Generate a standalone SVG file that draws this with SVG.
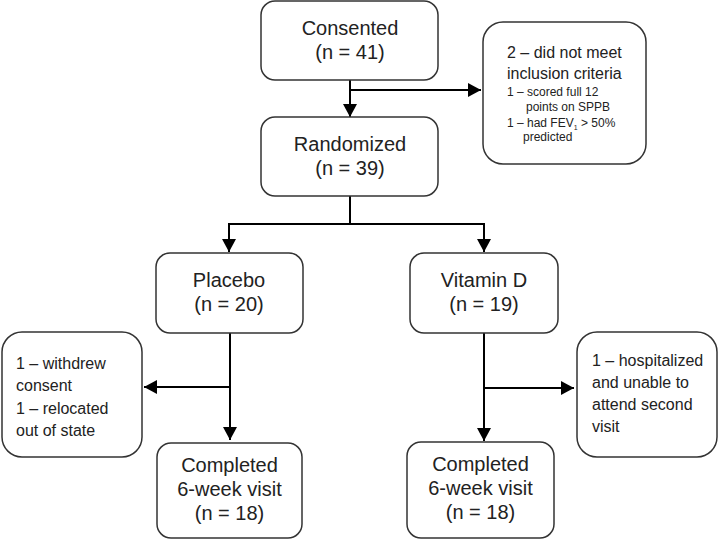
<svg xmlns="http://www.w3.org/2000/svg" width="718" height="539" viewBox="0 0 718 539">
<defs>
<marker id="ah" markerUnits="userSpaceOnUse" markerWidth="13" markerHeight="14" refX="13" refY="7" orient="auto" viewBox="0 0 13 14">
<path d="M0,0 L13,7 L0,14 z" fill="#000"/>
</marker>
<style>
.box{fill:#fff;stroke:#333;stroke-width:1.5}
.t{font-family:"Liberation Sans",Arial,sans-serif;fill:#222}
.big{font-size:20px;text-anchor:middle}
.mid{font-size:16px}
.sm{font-size:12px}
.c{fill:none;stroke:#000;stroke-width:2}
</style>
</defs>
<rect width="718" height="539" fill="#fff"/>
<g id="connectors">
<path class="c" d="M350,80 V117" marker-end="url(#ah)"/>
<path class="c" d="M350,90 H481" marker-end="url(#ah)"/>
<path class="c" d="M350,196 V224 H229 V252" marker-end="url(#ah)"/>
<path class="c" d="M350,224 H484 V252" marker-end="url(#ah)"/>
<path class="c" d="M230,333 V440" marker-end="url(#ah)"/>
<path class="c" d="M230,387 H144" marker-end="url(#ah)"/>
<path class="c" d="M484,333 V441" marker-end="url(#ah)"/>
<path class="c" d="M484,388 H574" marker-end="url(#ah)"/>
</g>
<g id="consented">
<rect class="box" x="261" y="1" width="177" height="79" rx="14"/>
<text class="t big" x="350" y="35">Consented</text>
<text class="t big" x="350" y="59">(n = 41)</text>
</g>
<g id="excluded">
<rect class="box" x="483" y="22" width="163" height="142" rx="20"/>
<text class="t mid" x="507" y="58">2 – did not meet</text>
<text class="t mid" x="507" y="79">inclusion criteria</text>
<text class="t sm" x="507" y="96">1 – scored full 12</text>
<text class="t sm" x="526" y="111">points on SPPB</text>
<text class="t sm" x="507" y="127">1 – had FEV<tspan font-size="7" dy="3">1</tspan><tspan dy="-3"> &gt; 50%</tspan></text>
<text class="t sm" x="523" y="141">predicted</text>
</g>
<g id="randomized">
<rect class="box" x="261" y="117" width="177" height="79" rx="14"/>
<text class="t big" x="350" y="151">Randomized</text>
<text class="t big" x="350" y="175">(n = 39)</text>
</g>
<g id="placebo">
<rect class="box" x="156" y="253" width="147" height="80" rx="14"/>
<text class="t big" x="229" y="287">Placebo</text>
<text class="t big" x="229" y="311">(n = 20)</text>
</g>
<g id="vitamind">
<rect class="box" x="410" y="253" width="148" height="80" rx="14"/>
<text class="t big" x="484" y="287">Vitamin D</text>
<text class="t big" x="484" y="311">(n = 19)</text>
</g>
<g id="withdrew">
<rect class="box" x="2" y="332" width="140" height="125" rx="20"/>
<text class="t mid" x="16" y="369">1 – withdrew</text>
<text class="t mid" x="16" y="391">consent</text>
<text class="t mid" x="16" y="414">1 – relocated</text>
<text class="t mid" x="16" y="436">out of state</text>
</g>
<g id="hospitalized">
<rect class="box" x="577" y="332" width="140" height="125" rx="20"/>
<text class="t mid" x="592" y="366">1 – hospitalized</text>
<text class="t mid" x="592" y="388">and unable to</text>
<text class="t mid" x="592" y="410">attend second</text>
<text class="t mid" x="592" y="432">visit</text>
</g>
<g id="completed-placebo">
<rect class="box" x="157" y="443" width="145" height="95" rx="14"/>
<text class="t big" x="229.5" y="472">Completed</text>
<text class="t big" x="229.5" y="496">6-week visit</text>
<text class="t big" x="229.5" y="520">(n = 18)</text>
</g>
<g id="completed-vitamind">
<rect class="box" x="407" y="442" width="147" height="96" rx="14"/>
<text class="t big" x="480.5" y="471">Completed</text>
<text class="t big" x="480.5" y="495">6-week visit</text>
<text class="t big" x="480.5" y="519">(n = 18)</text>
</g>
</svg>
